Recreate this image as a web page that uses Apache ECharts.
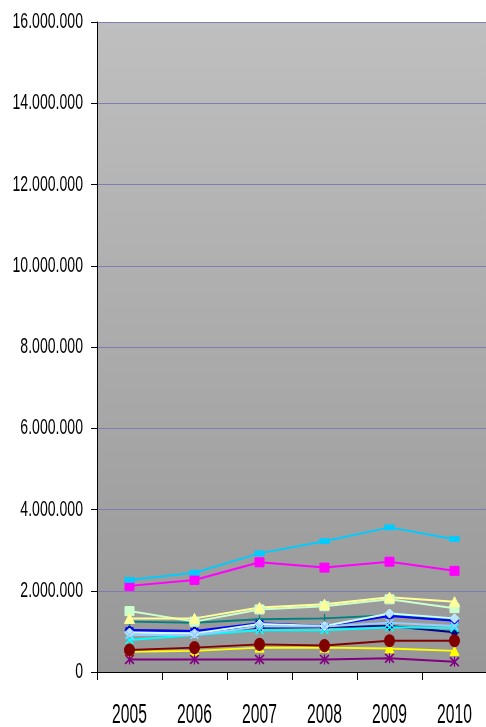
<!DOCTYPE html>
<html>
<head>
<meta charset="utf-8">
<style>
html,body{margin:0;padding:0;background:#fff;}
#c{width:486px;height:727px;}
</style>
<script src="https://cdn.jsdelivr.net/npm/echarts@6/dist/echarts.min.js"></script>
</head>
<body>
<div id="c"></div>
<script>
var categories = ['2005','2006','2007','2008','2009','2010'];
var yTicks = [0, 2000000, 4000000, 6000000, 8000000, 10000000, 12000000, 14000000, 16000000];

var navySeries      = [1030000, 1010000, 1090000, 1110000, 1130000, 980000];
var magentaSeries   = [2120000, 2265000, 2700000, 2570000, 2715000, 2490000];
var yellowSeries    = [500000, 520000, 600000, 600000, 580000, 520000];
var cyanSeries      = [790000, 910000, 1030000, 1030000, 1100000, 1080000];
var purpleSeries    = [310000, 310000, 310000, 310000, 340000, 250000];
var darkRedSeries   = [540000, 600000, 680000, 650000, 770000, 770000];
var tealSeries      = [1240000, 1210000, 1300000, 1320000, 1400000, 1300000];
var blueSeries      = [1030000, 1010000, 1200000, 1130000, 1380000, 1260000];
var skyBlueSeries   = [2265000, 2445000, 2920000, 3220000, 3560000, 3270000];
var turquoiseSeries = [970000, 950000, 1180000, 1130000, 1440000, 1320000];
var lightGreenSeries= [1500000, 1240000, 1540000, 1620000, 1790000, 1570000];
var lightYellowSeries=[1320000, 1320000, 1590000, 1670000, 1840000, 1730000];
var paleBlueSeries  = [910000, 910000, 1120000, 1120000, 1210000, 1130000];

var X_PATH = 'path://M0 1.2L1.2 0L10 8.8L8.8 10Z M8.8 0L10 1.2L1.2 10L0 8.8Z';
var STAR_PATH = 'path://M0 1.2L1.2 0L10 8.8L8.8 10Z M8.8 0L10 1.2L1.2 10L0 8.8Z M4.4 0L5.6 0L5.6 10L4.4 10Z';
var PLUS_PATH = 'path://M4.3 0L5.7 0L5.7 10L4.3 10Z M0 4.3L10 4.3L10 5.7L0 5.7Z';
var FONT = '"Liberation Sans",Arial,sans-serif';

function fmt(v) { return String(v).replace(/\B(?=(\d{3})+(?!\d))/g, '.'); }

function mk(name, data, color, symbol, size, fill) {
  return {
    name: name, type: 'line', data: data,
    symbol: symbol, symbolSize: size,
    lineStyle: {color: color, width: 2},
    itemStyle: {color: fill || color, borderColor: color, borderWidth: symbol.indexOf('path') === 0 ? 0 : 1},
    emphasis: {disabled: true},
    animation: false
  };
}

var chart = echarts.init(document.getElementById('c'));
chart.setOption({
  animation: false,
  grid: {left: 97, top: 22, right: -1, bottom: 55, containLabel: false, outerBoundsMode: 'none',
    show: true, borderWidth: 0,
    backgroundColor: new echarts.graphic.LinearGradient(0, 0, 0, 1, [
      {offset: 0, color: '#bfbfbf'}, {offset: 1, color: '#979797'}])},
  xAxis: {
    type: 'category', data: categories, boundaryGap: true,
    axisLine: {lineStyle: {color: '#000', width: 1}},
    axisTick: {show: true, length: 8, interval: 0, lineStyle: {color: '#000'}, alignWithLabel: false},
    axisLabel: {margin: 29, interval: 0, hideOverlap: false, color: '#000', fontSize: 28, fontFamily: FONT},
    splitLine: {show: false}
  },
  yAxis: {
    type: 'value', min: 0, max: 16000000, interval: 2000000,
    axisLine: {show: true, lineStyle: {color: '#000', width: 1}},
    axisTick: {show: true, length: 6, lineStyle: {color: '#000'}},
    axisLabel: {margin: 14, hideOverlap: false, color: '#000', fontSize: 22, fontFamily: FONT, formatter: fmt},
    splitLine: {show: true, lineStyle: {color: '#7f7cb0', width: 1}}
  },
  series: [
    mk('S1', navySeries, '#000080', 'diamond', 9),
    mk('S2', magentaSeries, '#ff00ff', 'rect', 9),
    mk('S3', yellowSeries, '#ffff00', 'triangle', 9),
    mk('S4', cyanSeries, '#00ffff', X_PATH, 9),
    mk('S5', purpleSeries, '#800080', STAR_PATH, 10),
    mk('S6', darkRedSeries, '#800000', 'circle', [10, 12]),
    mk('S7', tealSeries, '#008080', PLUS_PATH, 9),
    mk('S8', blueSeries, '#0000ff', 'rect', [7, 5]),
    mk('S9', skyBlueSeries, '#00ccff', 'rect', [9, 5]),
    mk('S10', turquoiseSeries, '#ccffff', 'diamond', 9, '#b8e4ff'),
    mk('S11', lightGreenSeries, '#ccffcc', 'rect', 9),
    mk('S12', lightYellowSeries, '#ffff99', 'triangle', 10),
    mk('S13', paleBlueSeries, '#99ccff', X_PATH, 9)
  ]
});

// Condense the axis label glyphs horizontally (the reference uses a squeezed typeface).
(function condense() {
  var yLabels = yTicks.map(fmt);
  var zr = chart.getZr();
  function visit(el) {
    if (el.type === 'text' && el.style) {
      var t = el.style.text;
      if (categories.indexOf(t) >= 0) { el.attr({scaleX: 0.56}); }
      else if (yLabels.indexOf(t) >= 0) { el.attr({scaleX: 0.64}); }
    }
  }
  zr.storage.getRoots().forEach(function (root) {
    if (root.traverse) { root.traverse(visit); } else { visit(root); }
  });
  zr.refreshImmediately();
})();
</script>
</body>
</html>
